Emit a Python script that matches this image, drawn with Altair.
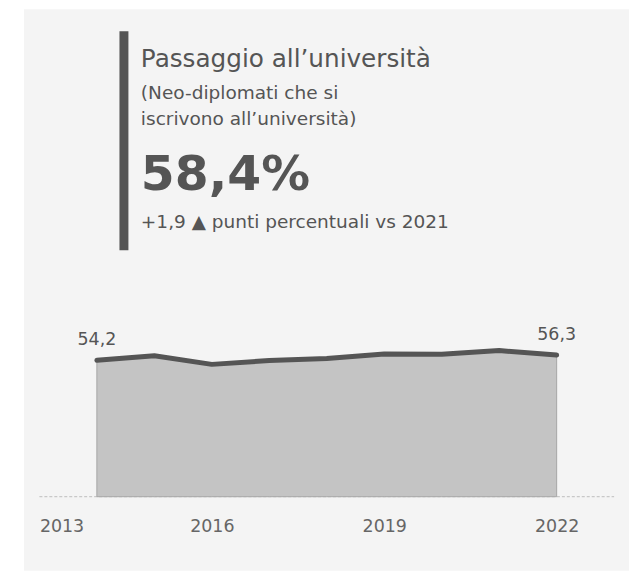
import altair as alt
import pandas as pd

# ---- data ----
years = [2014, 2015, 2016, 2017, 2018, 2019, 2020, 2021, 2022]
values = [54.2, 56.0, 52.6, 54.1, 54.9, 56.7, 56.6, 58.1, 56.3]
tick_years = [2013, 2016, 2019, 2022]
axis_span = [2013, 2023]

title_text = "Passaggio all\u2019università"
subtitle_lines = ["(Neo-diplomati che si", "iscrivono all\u2019università)"]
kpi_text = "58,4%"
delta_text = "+1,9 \u25B2 punti percentuali vs 2021"

df = pd.DataFrame({"year": years, "value": values})
span_df = pd.DataFrame({"year": [axis_span[0]], "year_end": [axis_span[1]], "value": [0]})

FONT = "DejaVu Sans"
DARK = "#555555"
BG = "#f4f4f4"

x_scale = alt.Scale(domain=[2012.7307, 2023.2589], nice=False, zero=False)
y_scale = alt.Scale(domain=[-29.39, 193.71], nice=False, zero=False)

x_axis = alt.Axis(
    values=tick_years,
    format="d",
    title=None,
    domain=False,
    ticks=False,
    tickSize=0,
    grid=False,
    offset=-74.3,
    labelPadding=34.8,
    labelBaseline="alphabetic",
    labelFontSize=17.5,
    labelFont=FONT,
    labelColor="#666666",
    labelAlign={"condition": {"test": "datum.value <= 2013", "value": "left"}, "value": "center"},
)
x_enc = alt.X("year:Q", scale=x_scale, axis=x_axis)
y_enc = alt.Y("value:Q", scale=y_scale, axis=None)

base = alt.Chart(df)

baseline = alt.Chart(span_df).mark_rule(
    color="#bdbdbd", strokeWidth=1, strokeDash=[3, 2]
).encode(x=x_enc, x2="year_end:Q", y=y_enc)

area = base.transform_calculate(base0="0").mark_area(
    color="#c4c4c4", stroke="#a6a6a6", strokeWidth=1
).encode(x=x_enc, y=y_enc, y2="base0:Q")

line = base.mark_line(color=DARK, strokeWidth=5, strokeCap="round", strokeJoin="round").encode(
    x=x_enc, y=y_enc
)

labels = base.transform_filter(
    alt.FieldOneOfPredicate(field="year", oneOf=[years[0], years[-1]])
).transform_calculate(
    lab="replace(format(datum.value, '.1f'), '.', ',')"
).mark_text(
    font=FONT, fontSize=17.5, color="#555555", baseline="alphabetic", dy=-15
).encode(x=x_enc, y=y_enc, text="lab:N")

# ---- header block ----
one = pd.DataFrame({"k": [1]})
bar = alt.Chart(one).mark_rule(color=DARK, strokeWidth=9).encode(
    x=alt.value(100.5), y=alt.value(22), y2=alt.value(242)
)

def txt(t, y, size, weight="normal"):
    return alt.Chart(pd.DataFrame({"t": [t]})).mark_text(
        font=FONT, fontSize=size, fontWeight=weight, color=DARK,
        align="left", baseline="alphabetic"
    ).encode(x=alt.value(117.5), y=alt.value(y), text="t:N")

header = [
    bar,
    txt(title_text, 57.7, 24.8),
    txt(subtitle_lines[0], 89.7, 18.6),
    txt(subtitle_lines[1], 116.2, 18.6),
    txt(kpi_text, 182, 49, "bold"),
    txt(delta_text, 219.3, 18.6),
]

chart = alt.layer(baseline, area, line, labels, *header).properties(
    width=608,
    height=564,
    autosize=alt.AutoSizeParams(type="none"),
    padding={"left": 16, "top": 0, "right": 0, "bottom": 0},
    background="white",
).configure_view(fill=BG, stroke=None)

chart.save("out.html", embed_options={"renderer": "svg", "actions": False})
